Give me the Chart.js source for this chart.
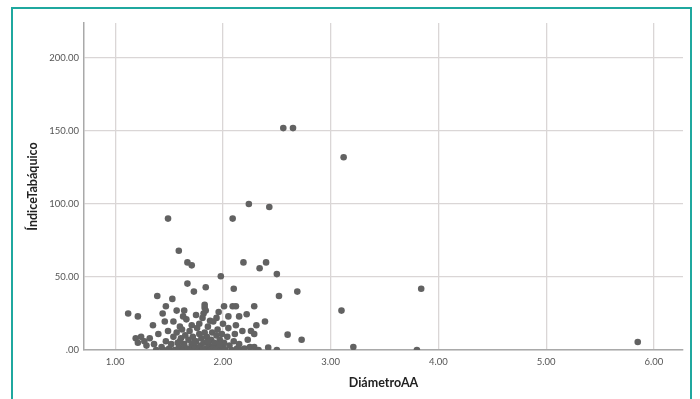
<!DOCTYPE html>
<html>
<head>
<meta charset="utf-8">
<script src="https://cdn.jsdelivr.net/npm/chart.js@4"></script>
<style>
  html, body { margin: 0; padding: 0; background: #fff; }
  #wrap { position: relative; width: 700px; height: 399px; overflow: hidden; }
  #frame {
    position: absolute; left: 11px; top: 7px; width: 681px; height: 420px;
    border: 2px solid #1fa89f; box-sizing: border-box;
  }
  #chartCanvas { position: absolute; left: 0; top: 0; }
</style>
</head>
<body>
<div id="wrap">
  <div id="frame"></div>
  <canvas id="chartCanvas" width="700" height="399"></canvas>
</div>
<script>
// Diagrama de dispersión: DiámetroAA vs ÍndiceTabáquico

const X_TITLE = 'DiámetroAA';
const Y_TITLE = 'ÍndiceTabáquico';

const xTicks = [1, 2, 3, 4, 5, 6];
const yTicks = [0, 50, 100, 150, 200];

// valores (mismo orden en ambos arrays)
const diametroAA = [
    2.56, 2.65, 3.12, 2.24, 2.43, 1.49, 2.09, 1.59, 1.67, 1.71,
    2.19, 2.40, 2.34, 2.50, 1.98, 1.67, 1.73, 1.84, 2.10, 2.52,
    2.69, 3.84, 3.10, 2.73, 3.21, 3.80, 5.85,
    1.39, 1.53, 1.47, 1.12, 1.21, 1.44, 1.64, 1.63, 1.83, 1.83,
    1.84, 1.82, 1.81, 2.01, 2.09, 2.12, 2.29, 2.22, 2.15, 2.05,
    2.39, 2.31, 2.18, 2.26, 2.29, 1.94, 1.91, 1.71, 1.54, 1.46,
    1.35, 2.60, 1.57, 1.75, 1.88, 2.00, 1.66, 1.60, 1.78, 1.96,
    1.19, 1.21, 1.24, 1.27, 1.29, 1.32, 1.36, 1.40, 1.43, 1.45,
    1.47, 1.49, 1.50, 1.52, 1.54, 1.55, 1.57, 1.58, 1.59, 1.61,
    1.62, 1.63, 1.64, 1.65, 1.67, 1.68, 1.69, 1.70, 1.71, 1.72,
    1.74, 1.75, 1.76, 1.77, 1.78, 1.79, 1.80, 1.81, 1.82, 1.83,
    1.84, 1.85, 1.86, 1.87, 1.88, 1.89, 1.90, 1.91, 1.92, 1.93,
    1.94, 1.95, 1.96, 1.97, 1.98, 1.99, 2.00, 2.01, 2.02, 2.04,
    2.05, 2.06, 2.08, 2.10, 2.11, 2.13, 2.15, 2.17, 2.20, 2.23,
    2.25, 2.29, 2.33, 2.42, 2.50, 1.38, 1.60, 1.73, 1.86, 1.97,
    2.12
];
const indiceTabaquico = [
    152, 152, 132, 100, 98, 90, 90, 68, 60, 58,
    60, 60, 56, 52, 50.5, 45.5, 40, 43, 42, 37,
    40, 42, 27, 7, 2, 0, 5.5,
    37, 35, 30, 25, 23, 25, 27, 23, 31, 29,
    27, 25, 22, 30, 30, 30, 30, 24.5, 23, 23,
    19.5, 17, 13, 13, 11, 22, 19.5, 17, 19.5, 19.5,
    17, 10.5, 27, 24, 20, 18, 21, 16, 18, 26,
    8, 5, 9, 6, 3, 8, 4, 11, 2, 0,
    6, 13, 1, 4, 9, 0, 12, 5, 2, 8,
    14, 0, 4, 10, 1, 7, 13, 0, 4, 9,
    2, 6, 15, 0, 11, 3, 8, 0, 5, 12,
    1, 9, 16, 3, 0, 7, 12, 2, 5, 0,
    10, 14, 3, 7, 0, 11, 2, 5, 0, 9,
    15, 3, 0, 6, 11, 1, 4, 0, 1, 7,
    2, 2, 0, 1.6, 0, 0, 6, 5, 6, 4,
    17
];

const points = diametroAA.map((x, i) => ({ x, y: indiceTabaquico[i] }));

const GRID_COLOR = '#dad6d6';
const AXIS_COLOR = '#a9a9a9';
const TICK_FONT = { family: 'Lato', size: 9.5 };
const TITLE_FONT = { family: 'Lato', size: 12.5, weight: 'bold' };

const ctx = document.getElementById('chartCanvas').getContext('2d');

new Chart(ctx, {
    type: 'scatter',
    data: {
        datasets: [{
            label: Y_TITLE,
            data: points,
            backgroundColor: '#626262',
            borderWidth: 0,
            pointRadius: 3.3,
            pointHoverRadius: 3.3
        }]
    },
    options: {
        animation: false,
        responsive: false,
        layout: { padding: { left: 0, top: 23, right: 17, bottom: 0 } },
        plugins: {
            legend: { display: false },
            tooltip: { enabled: false }
        },
        scales: {
            x: {
                type: 'linear',
                min: 0.71,
                max: 6.27,
                afterBuildTicks: s => { s.ticks = xTicks.map(v => ({ value: v })); },
                afterFit: s => { s.height = 49; },
                ticks: {
                    color: '#555',
                    font: TICK_FONT,
                    padding: 6,
                    callback: v => v.toFixed(2)
                },
                grid: { color: GRID_COLOR, lineWidth: 1.3, drawTicks: false },
                border: { display: true, color: AXIS_COLOR, width: 1.5 },
                title: {
                    display: true,
                    text: X_TITLE,
                    color: '#222',
                    font: TITLE_FONT,
                    padding: { top: 0, bottom: 8.5 }
                }
            },
            y: {
                type: 'linear',
                min: 0,
                max: 224,
                afterBuildTicks: s => { s.ticks = yTicks.map(v => ({ value: v })); },
                afterFit: s => { s.width = 84; },
                ticks: {
                    color: '#555',
                    font: TICK_FONT,
                    padding: 5,
                    callback: v => v === 0 ? '.00' : v.toFixed(2)
                },
                grid: { color: GRID_COLOR, lineWidth: 1.3, drawTicks: false },
                border: { display: true, color: AXIS_COLOR, width: 1.5 },
                title: {
                    display: true,
                    text: Y_TITLE,
                    color: '#222',
                    font: TITLE_FONT,
                    padding: { top: 25.5, bottom: 0 }
                }
            }
        }
    }
});
</script>
</body>
</html>
